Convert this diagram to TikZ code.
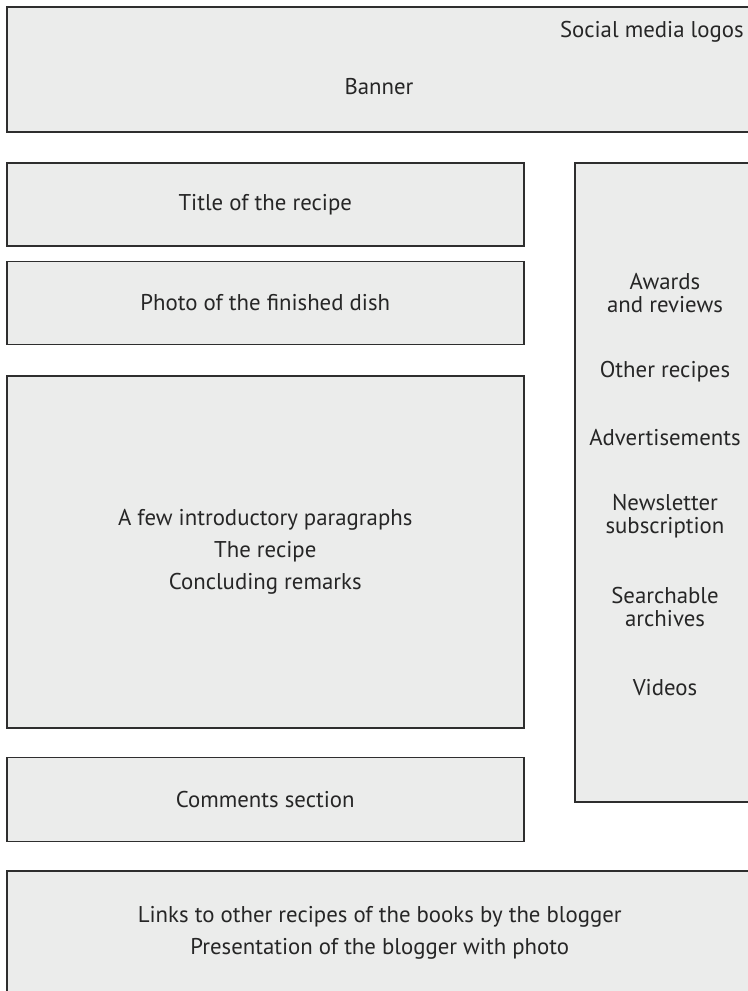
\documentclass[tikz,border=0pt]{standalone}
\usepackage{fontspec}
\setmainfont{PT Sans}
\usetikzlibrary{positioning}

\definecolor{boxfill}{HTML}{EBECEB}
\definecolor{boxline}{HTML}{2E2E2E}

\tikzset{
  block/.style={draw=boxline, fill=boxfill, line width=0.75pt, rectangle,
    inner sep=0pt, align=center, text=black!85,
    font=\fontsize{11.4}{11.5}\selectfont},
  lab/.style={inner sep=0pt, align=center, text=black!85,
    font=\fontsize{11.4}{11.5}\selectfont},
}

\begin{document}
\begin{tikzpicture}[x=0.5pt,y=-0.5pt]
    \useasboundingbox (0,0) rectangle (748,991);
    \clip (0,0) rectangle (748,991);

    % header
    \node[block, anchor=north west, minimum width=373pt, minimum height=62.5pt] (banner) at (6,6) {};
    \node[lab] (bannertxt) at (379,87) {Banner};
    \node[lab, anchor=east] (social) at (744,32) {Social media logos};

    % left column
    \node[block, anchor=north west, minimum width=258.5pt, minimum height=41.5pt] (title) at (6,162) {Title of the recipe};
    \node[block, below=7pt of title, minimum width=258.5pt, minimum height=41.5pt] (photo) {Photo of the finished dish};
    \node[block, below=15pt of photo, minimum width=258.5pt, minimum height=176pt] (text)
        {A few introductory paragraphs\\[4.5pt] The recipe\\[4.5pt] Concluding remarks};
    \node[block, below=14pt of text, minimum width=258.5pt, minimum height=42pt] (comments) {Comments section};

    % sidebar
    \node[block, anchor=north west, minimum width=91pt, minimum height=319.5pt] (sidebar) at (574,162) {};
    \node[lab] (awards) at (665,293) {Awards\\and reviews};
    \node[lab] (others) at (665,372) {Other recipes};
    \node[lab] (ads) at (665,438) {Advertisements};
    \node[lab] (news) at (665,516) {Newsletter\\subscription};
    \node[lab] (search) at (665,607) {Searchable\\archives};
    \node[lab] (videos) at (665,688) {Videos};

    % footer
    \node[block, anchor=north west, minimum width=373pt, minimum height=62.5pt] (footer) at (6,870)
        {Links to other recipes of the books by the blogger\\[4.5pt] Presentation of the blogger with photo};
\end{tikzpicture}
\end{document}
